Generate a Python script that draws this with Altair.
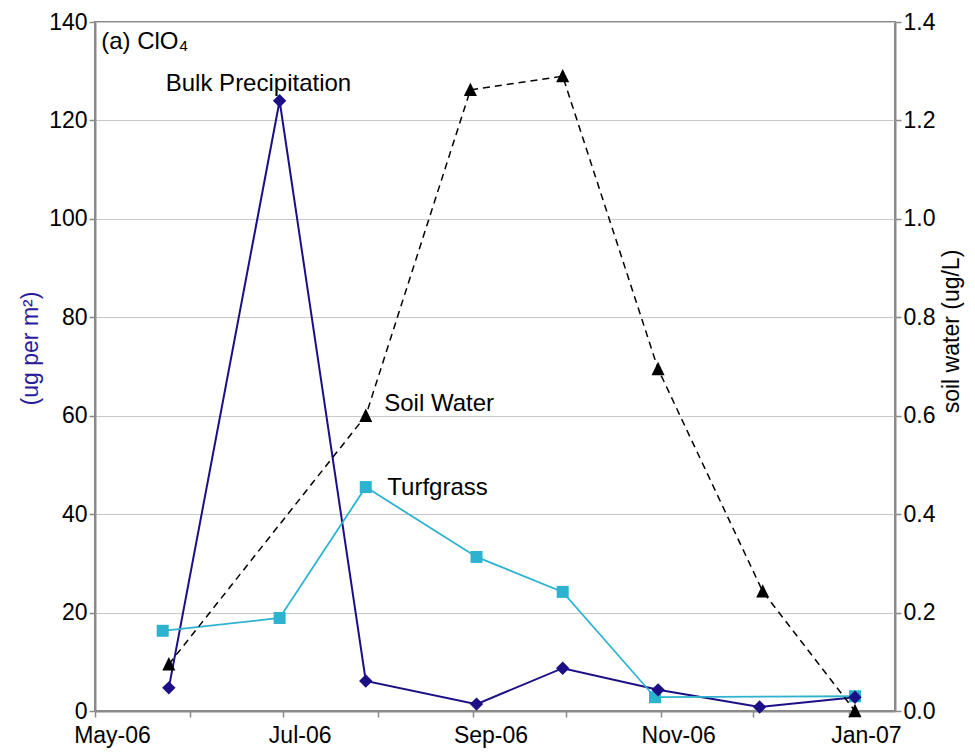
import altair as alt
import pandas as pd

# ---- data ----
bulk_dates = ["2006-05-25", "2006-06-30", "2006-07-28", "2006-09-02",
              "2006-09-30", "2006-10-31", "2006-12-03", "2007-01-03"]
bulk_values = [4.7, 124.0, 6.1, 1.4, 8.7, 4.3, 0.8, 2.8]

turf_dates = ["2006-05-23", "2006-06-30", "2006-07-28", "2006-09-02",
              "2006-09-30", "2006-10-30", "2007-01-03"]
turf_values = [16.3, 18.9, 45.5, 31.3, 24.2, 2.8, 3.0]

soil_dates = ["2006-05-25", "2006-07-28", "2006-08-31", "2006-09-30",
              "2006-10-31", "2006-12-04", "2007-01-03"]
soil_values = [0.095, 0.60, 1.262, 1.29, 0.695, 0.243, 0.0]

label_texts = ["(a) ClO₄", "Bulk Precipitation", "Soil Water", "Turfgrass"]
label_dates = ["2006-05-03", "2006-05-24", "2006-08-03", "2006-08-04"]
label_values = [136.0, 127.4, 62.4, 45.3]

left_ticks = [0, 20, 40, 60, 80, 100, 120, 140]
right_ticks = [0.0, 0.2, 0.4, 0.6, 0.8, 1.0, 1.2, 1.4]
month_ticks = [(2006, m) for m in range(5, 13)] + [(2007, 1)]

bulk = pd.DataFrame({"date": bulk_dates, "value": bulk_values})
turf = pd.DataFrame({"date": turf_dates, "value": turf_values})
soil = pd.DataFrame({"date": soil_dates, "soil": soil_values})
labels = pd.DataFrame({"date": label_dates, "value": label_values, "text": label_texts})

FONT = "Liberation Sans"
BULK_C = "#1c0f85"
TURF_C = "#2db3cf"
FS = 23

x_enc = alt.X(
    "date:T",
    scale=alt.Scale(
        type="utc",
        domain=[alt.DateTime(year=2006, month=5, date=1, utc=True),
                alt.DateTime(year=2007, month=1, date=16, utc=True)],
    ),
    axis=alt.Axis(
        values=[alt.DateTime(year=y, month=m, date=1, utc=True) for y, m in month_ticks],
        labelExpr="utcmonth(datum.value) % 2 == 0 ? utcFormat(datum.value, '%b-%y') : ''",
        grid=False,
        title=None,
        labelPadding=7,
        labelFlush=False,
        labelOffset=17,
    ),
)

y_left = alt.Y(
    "value:Q",
    scale=alt.Scale(domain=[0, 140], nice=False, zero=True),
    axis=alt.Axis(
        values=left_ticks,
        format="d",
        grid=True,
        title="(ug per m²)",
        titleColor="#2a1a9c",
        titlePadding=6,
        titleY=326,
    ),
)

y_right = alt.Y(
    "soil:Q",
    scale=alt.Scale(domain=[0, 1.4], nice=False, zero=True),
    axis=alt.Axis(
        orient="right",
        values=right_ticks,
        format=".1f",
        grid=False,
        title="soil water (ug/L)",
        titleAngle=270,
        titleBaseline="top",
        titlePadding=6,
        titleY=309,
    ),
)

bulk_line = alt.Chart(bulk).mark_line(color=BULK_C, strokeWidth=2).encode(x=x_enc, y=y_left)
bulk_pts = alt.Chart(bulk).mark_point(
    shape="diamond", size=180, filled=True, opacity=1, color=BULK_C
).encode(x=x_enc, y=y_left)

turf_line = alt.Chart(turf).mark_line(color=TURF_C, strokeWidth=1.8).encode(x=x_enc, y=y_left)
turf_pts = alt.Chart(turf).mark_point(
    shape="square", size=144, filled=True, opacity=1, color=TURF_C
).encode(x=x_enc, y=y_left)

text = alt.Chart(labels).mark_text(
    align="left", baseline="middle", font=FONT, fontSize=24, color="black"
).encode(x=x_enc, y=y_left, text="text:N")

soil_line = alt.Chart(soil).mark_line(
    color="black", strokeWidth=1.5, strokeDash=[7, 5]
).encode(x=x_enc, y=y_right)
soil_pts = alt.Chart(soil).mark_point(
    shape="M0,-1.1L1,0.95L-1,0.95Z", size=170, filled=True, opacity=1, color="black"
).encode(x=x_enc, y=y_right)

left = alt.layer(bulk_line, turf_line, turf_pts, bulk_pts, text)
right = alt.layer(soil_line, soil_pts)

chart = (
    alt.layer(left, right)
    .resolve_scale(y="independent")
    .properties(
        width=800,
        height=689,
        padding={"left": 95, "top": 22, "right": 80, "bottom": 42},
        autosize=alt.AutoSizeParams(type="none"),
        background="white",
    )
    .configure_view(stroke="#8a8a8a", strokeWidth=2)
    .configure_axis(
        domainColor="#8a8a8a",
        domainWidth=2,
        tickColor="#8a8a8a",
        tickSize=6,
        tickWidth=1.5,
        gridColor="#c8c8c8",
        gridWidth=1.2,
        labelFont=FONT,
        labelFontSize=FS,
        labelColor="black",
        titleFont=FONT,
        titleFontSize=FS,
        titleFontWeight="normal",
        titleColor="black",
    )
)

chart.save("out.html", embed_options={"renderer": "svg", "actions": False})
